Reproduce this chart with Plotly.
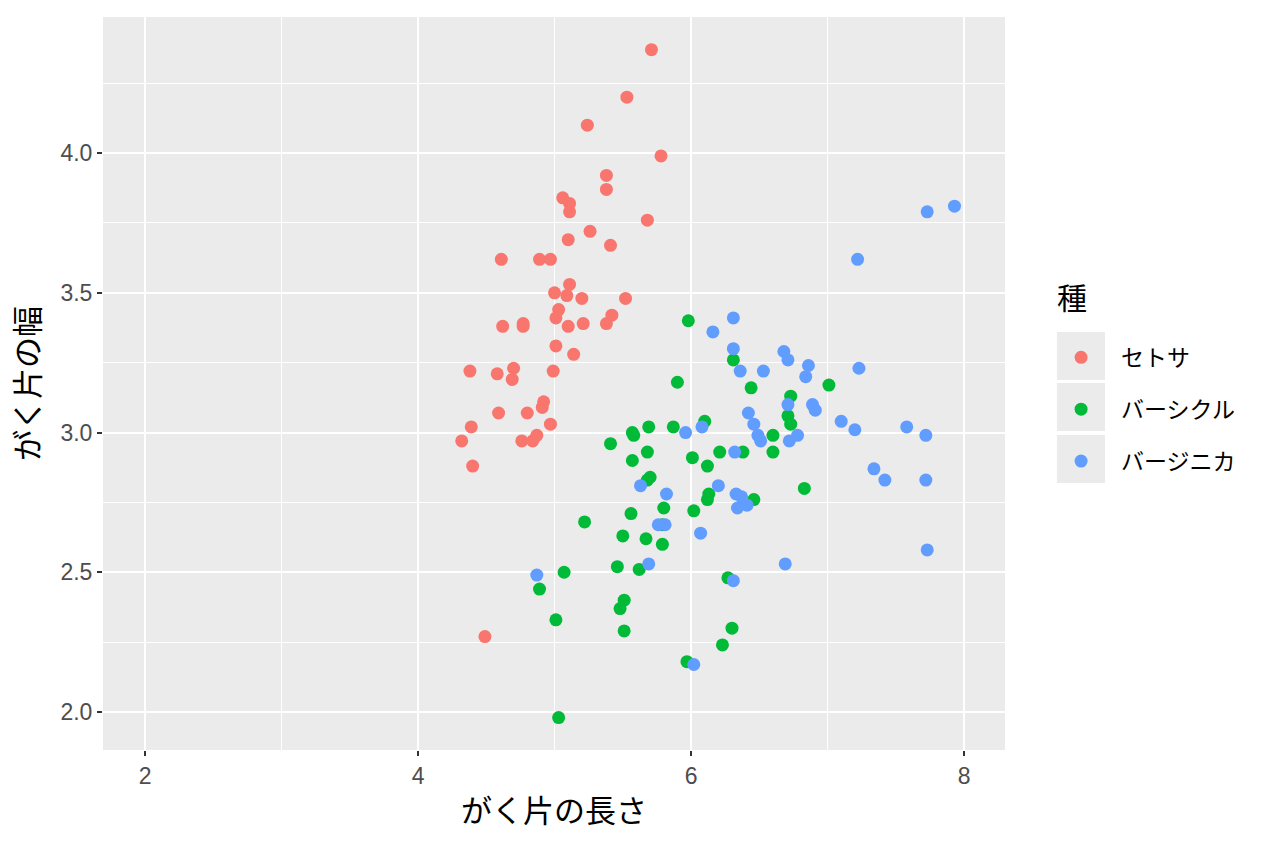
import plotly.graph_objects as go

# がく片の長さ / がく片の幅
setosa_x = [5.71, 5.53, 5.24, 5.78, 5.38, 5.38, 5.06, 5.11, 5.11, 5.68,
            5.26, 5.10, 5.41, 4.61, 4.89, 4.97, 5.11, 5.00, 5.09, 5.20,
            5.52, 5.03, 5.01, 5.42, 4.62, 4.77, 4.77, 5.10, 5.21, 5.38,
            5.01, 5.14, 4.38, 4.58, 4.70, 4.69, 4.99, 4.92, 4.91, 4.59,
            4.80, 4.39, 4.97, 4.32, 4.76, 4.84, 4.87, 4.40, 4.49]
setosa_y = [4.37, 4.20, 4.10, 3.99, 3.92, 3.87, 3.84, 3.82, 3.79, 3.76,
            3.72, 3.69, 3.67, 3.62, 3.62, 3.62, 3.53, 3.50, 3.49, 3.48,
            3.48, 3.44, 3.41, 3.42, 3.38, 3.39, 3.38, 3.38, 3.39, 3.39,
            3.31, 3.28, 3.22, 3.21, 3.23, 3.19, 3.22, 3.11, 3.09, 3.07,
            3.07, 3.02, 3.03, 2.97, 2.97, 2.97, 2.99, 2.88, 2.27]

versicolor_x = [5.98, 5.90, 6.44, 7.01, 6.73, 6.71, 6.73, 6.31, 6.10, 6.60,
                5.69, 5.87, 5.57, 5.58, 5.41, 5.68, 5.57, 6.01, 6.21, 6.38,
                6.60, 6.12, 5.68, 5.70, 6.13, 6.12, 6.46, 6.83, 5.56, 5.80,
                6.02, 5.22, 5.79, 5.50, 5.67, 5.79, 5.46, 5.62, 5.07, 4.89,
                6.27, 5.51, 5.48, 5.01, 5.51, 6.30, 6.23, 5.97, 5.03]
versicolor_y = [3.40, 3.18, 3.16, 3.17, 3.13, 3.06, 3.03, 3.26, 3.04, 2.99,
                3.02, 3.02, 3.00, 2.99, 2.96, 2.93, 2.90, 2.91, 2.93, 2.93,
                2.93, 2.88, 2.83, 2.84, 2.78, 2.76, 2.76, 2.80, 2.71, 2.73,
                2.72, 2.68, 2.67, 2.63, 2.62, 2.60, 2.52, 2.51, 2.50, 2.44,
                2.48, 2.40, 2.37, 2.33, 2.29, 2.30, 2.24, 2.18, 1.98]

virginica_x = [7.93, 7.73, 7.22, 6.31, 6.16, 6.31, 6.68, 6.71, 6.36, 6.53,
               6.86, 6.84, 7.23, 6.71, 6.89, 6.91, 6.42, 6.46, 6.49, 6.51,
               6.78, 6.72, 7.10, 7.20, 7.58, 7.72, 6.08, 5.96, 6.32, 7.34,
               7.42, 7.72, 6.20, 6.33, 6.37, 6.41, 6.34, 5.63, 5.82, 5.81,
               5.76, 6.07, 7.73, 5.69, 6.69, 4.87, 6.31, 6.02]
virginica_y = [3.81, 3.79, 3.62, 3.41, 3.36, 3.30, 3.29, 3.26, 3.22, 3.22,
               3.24, 3.20, 3.23, 3.10, 3.10, 3.08, 3.07, 3.03, 2.99, 2.97,
               2.99, 2.97, 3.04, 3.01, 3.02, 2.99, 3.02, 3.00, 2.93, 2.87,
               2.83, 2.83, 2.81, 2.78, 2.77, 2.74, 2.73, 2.81, 2.78, 2.67,
               2.67, 2.64, 2.58, 2.53, 2.53, 2.49, 2.47, 2.17]

species = ["セトサ", "バーシクル", "バージニカ"]
colors = ["#F8766D", "#00BA38", "#619CFF"]
xs = [setosa_x, versicolor_x, virginica_x]
ys = [setosa_y, versicolor_y, virginica_y]

font_family = "Liberation Sans, Noto Sans CJK JP, sans-serif"

fig = go.Figure()
for name, col, x, y in zip(species, colors, xs, ys):
    fig.add_trace(go.Scatter(
        x=x, y=y, mode="markers", name=name, legendgroup=name,
        marker=dict(color=col, size=13, line=dict(width=0)),
    ))

# grey key boxes behind the legend symbols (ggplot style)
for y0, y1 in [(0.5048, 0.5703), (0.4352, 0.5007), (0.3643, 0.4297)]:
    fig.add_shape(type="rect", xref="paper", yref="paper",
                  x0=1.0576, x1=1.1109, y0=y0, y1=y1,
                  fillcolor="#EBEBEB", line=dict(width=0), layer="below")

# legend title
fig.add_annotation(text="種", xref="paper", yref="paper", x=1.0554, y=0.6166,
                   xanchor="left", yanchor="middle", showarrow=False,
                   font=dict(size=30, color="black", family=font_family))

axis_common = dict(
    showgrid=True, gridcolor="white", gridwidth=2,
    zeroline=False, showline=False,
    ticks="outside", ticklen=5, tickwidth=1.5, tickcolor="#333333",
    tickfont=dict(size=23, color="#4D4D4D", family=font_family),
    automargin=False,
)

fig.update_xaxes(
    range=[1.692, 8.30], tickvals=[2, 4, 6, 8], ticktext=["2", "4", "6", "8"],
    minor=dict(dtick=1, tick0=0, showgrid=True, gridcolor="white", gridwidth=1, ticklen=0),
    title=dict(text="がく片の長さ", font=dict(size=31, color="black", family=font_family), standoff=12),
    **axis_common,
)
fig.update_yaxes(
    range=[1.864, 4.487], tickvals=[2.0, 2.5, 3.0, 3.5, 4.0],
    ticktext=["2.0", "2.5", "3.0", "3.5", "4.0"],
    minor=dict(dtick=0.25, tick0=0, showgrid=True, gridcolor="white", gridwidth=1, ticklen=0),
    title=dict(text="がく片の幅", font=dict(size=31, color="black", family=font_family), standoff=11),
    **axis_common,
)

fig.update_layout(
    width=1264, height=848,
    margin=dict(l=95, r=267, t=9, b=106),
    paper_bgcolor="white", plot_bgcolor="#EBEBEB",
    font=dict(family=font_family, color="black"),
    legend=dict(
        font=dict(size=23, family=font_family),
        x=1.04, xanchor="left", y=0.565, yanchor="top",
        itemwidth=70, tracegroupgap=19, bgcolor="rgba(0,0,0,0)",
    ),
)

fig.write_html("out.html")
